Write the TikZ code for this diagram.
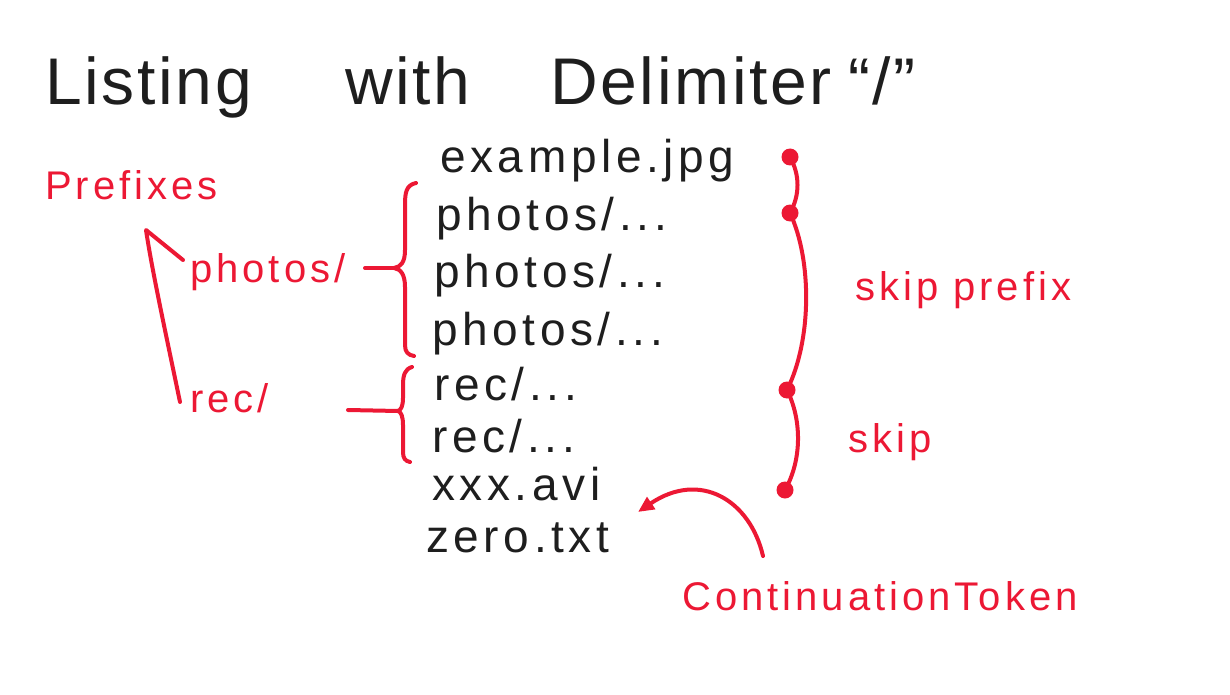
\documentclass[tikz,border=0pt]{standalone}
\usepackage{fontspec}
\setmainfont{Liberation Sans}
\newfontfamily\hand[LetterSpace=10]{Liberation Sans}
\newfontfamily\handtitle[LetterSpace=4]{Liberation Sans}
\usetikzlibrary{arrows.meta}
\definecolor{ink}{HTML}{1E1E1E}
\definecolor{pen}{HTML}{EC1834}
\tikzset{
  title/.style={anchor=base west, inner sep=0pt, text=ink, font=\handtitle\fontsize{66}{70}\selectfont},
  item/.style={anchor=base west, inner sep=0pt, text=ink, font=\hand\fontsize{46}{50}\selectfont},
  note/.style={anchor=base west, inner sep=0pt, text=pen, font=\hand\fontsize{40}{44}\selectfont},
  redline/.style={draw=pen, line width=4pt, line cap=round, line join=round},
  dot/.style={circle, fill=pen, minimum size=17pt, inner sep=0pt},
}
\begin{document}
\begin{tikzpicture}[x=1pt,y=-1pt]
\useasboundingbox (0,0) rectangle (1230,695);
% title
\node[title] (t1) at (45,105) {Listing};
\node[title] (t2) at (345,105) {with};
\node[title] (t3) at (550,105) {Delimiter};
\node[title] (t4) at (848,105) {“/”};
% listing
\node[item] (f1) at (440,172) {example.jpg};
\node[item] (f2) at (436,230) {photos/...};
\node[item] (f3) at (434,287) {photos/...};
\node[item] (f4) at (432,345) {photos/...};
\node[item] (f5) at (434,400) {rec/...};
\node[item] (f6) at (432,452) {rec/...};
\node[item] (f7) at (432,500) {xxx.avi};
\node[item] (f8) at (426,552) {zero.txt};
% red labels
\node[note] (pre) at (45,200) {Prefixes};
\node[note] (ph) at (190,282) {photos/};
\node[note] (rc) at (190,412) {rec/};
\node[note] (sp) at (855,300) {skip prefix};
\node[note] (sk) at (848,452) {skip};
\node[note] (ct) at (682,610) {ContinuationToken};
% prefixes caret
\coordinate (peak) at (146,230);
\draw[redline] (180,402) .. controls (165,330) and (152,270) .. (peak) -- (183,260);
% photos brace
\coordinate (pb) at (394,268);
\draw[redline] (416,183) .. controls (406,185) and (405,193) .. (405,205) -- (405,250)
  .. controls (405,262) and (401,267) .. (pb)
  .. controls (401,269) and (405,275) .. (405,287) -- (405,345)
  .. controls (405,352) and (408,355) .. (414,356);
\draw[redline] (365,268) -- (pb);
% rec brace
\coordinate (rb) at (398,411);
\draw[redline] (412,367) .. controls (405,369) and (403,375) .. (403,385) -- (403,398)
  .. controls (403,406) and (401,410) .. (rb)
  .. controls (401,412) and (403,416) .. (403,425) -- (403,452)
  .. controls (403,458) and (405,461) .. (410,462);
\draw[redline] (348,410) -- (rb);
% right brackets with dots
\node[dot] (d1) at (790,157) {};
\node[dot] (d2) at (790,213) {};
\node[dot] (d3) at (787,390) {};
\node[dot] (d4) at (785,490) {};
\draw[redline] (d1.center) .. controls (800,175) and (800,195) .. (d2.center);
\draw[redline] (d2.center) .. controls (812,260) and (812,340) .. (d3.center);
\draw[redline] (d3.center) .. controls (802,420) and (802,460) .. (d4.center);
% continuation arrow
\coordinate (ctstart) at (763,556);
\coordinate (cttip) at (638,512);
\draw[redline, -{Triangle[length=16pt,width=14pt]}] (ctstart) .. controls (750,500) and (700,470) .. (cttip);
\end{tikzpicture}
\end{document}
